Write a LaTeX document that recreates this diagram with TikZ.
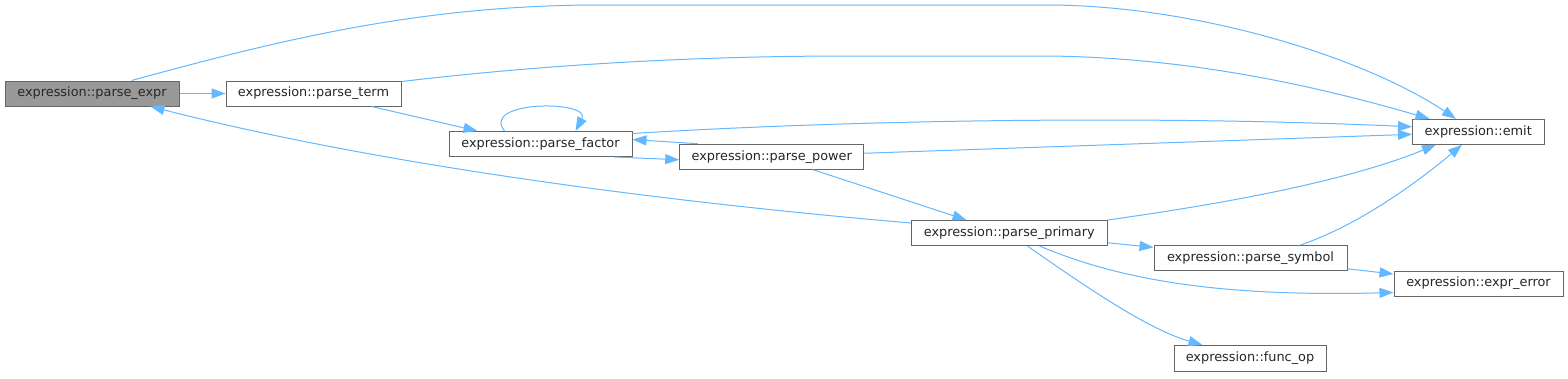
\documentclass[tikz,border=0pt]{standalone}
\usepackage{fontspec}
\setmainfont{DejaVu Sans}
\usetikzlibrary{arrows.meta,calc}
\definecolor{edgeblue}{HTML}{63B8FF}
\definecolor{boxborder}{HTML}{666666}
\definecolor{rootfill}{HTML}{999999}
\begin{document}
\begin{tikzpicture}[x=1pt,y=-1pt,
  fn/.style={draw=boxborder, line width=1pt, fill=white, inner sep=0pt,
    minimum height=25pt, font=\fontsize{12.87}{15}\selectfont, text=black!85},
  rootfn/.style={fn, fill=rootfill},
  edge/.style={draw=edgeblue, line width=1pt,
    -{Triangle[length=14pt,width=10pt,fill=edgeblue]}}]
\useasboundingbox (0,0) rectangle (1568,378);
\fill[white] (0,0) rectangle (1568,378);

\node[rootfn, minimum width=174pt] (expr) at (92,93.5) {expression::parse\_expr};
\node[fn, minimum width=175pt] (term) at (313.5,93.5) {expression::parse\_term};
\node[fn, minimum width=183pt] (factor) at (540.5,144) {expression::parse\_factor};
\node[fn, minimum width=184pt] (power) at (771.75,156.75) {expression::parse\_power};
\node[fn, minimum width=131.5pt] (emit) at (1478.25,131.8) {expression::emit};
\node[fn, minimum width=195.5pt] (primary) at (1009.25,233) {expression::parse\_primary};
\node[fn, minimum width=193pt] (symbol) at (1250.5,258.3) {expression::parse\_symbol};
\node[fn, minimum width=169pt] (error) at (1478.5,283.5) {expression::expr\_error};
\node[fn, minimum width=152pt, minimum height=26pt] (funcop) at (1250,358.5) {expression::func\_op};

% parse_expr -> parse_term
\draw[edge] (expr.east) -- (term.west);
% parse_expr -> emit
\draw[edge] ($(expr.north west)+(127,0)$) .. controls (280,40) and (420,5) .. (600,5)
  -- (1050,5) .. controls (1200,6) and (1365,58) .. ($(emit.north west)+(44,0)$);
% parse_term -> emit
\draw[edge] ($(term.north east)+(0,1)$) .. controls (550,64) and (700,56) .. (850,56)
  -- (1050,56) .. controls (1200,58) and (1330,90) .. ($(emit.north west)+(17.5,0)$);
% parse_term -> parse_factor
\draw[edge] ($(term.south west)+(146,0)$) -- ($(factor.north west)+(29,0)$);
% parse_factor self loop
\draw[edge] ($(factor.north west)+(56,0)$) .. controls (480,100) and (592,100) .. ($(factor.north west)+(127,0)$);
% parse_factor -> emit
\draw[edge] ($(factor.north east)+(0,2.5)$) .. controls (850,120) and (1150,115) .. ($(emit.north west)+(0,8)$);
% parse_factor -> parse_power
\draw[edge] ($(factor.south west)+(166,0)$) -- ($(power.north west)+(0,16)$);
% parse_power -> parse_factor
\draw[edge] ($(power.north west)+(18.5,0)$) -- ($(factor.north east)+(0,8.5)$);
% parse_power -> emit
\draw[edge] ($(power.north east)+(0,9.5)$) -- ($(emit.north west)+(0,15.5)$);
% parse_power -> parse_primary
\draw[edge] ($(power.south west)+(134,0)$) -- ($(primary.north west)+(55.5,0)$);
% parse_primary -> parse_expr
\draw[edge] ($(primary.north west)+(0,3)$) .. controls (700,205) and (400,170) .. ($(expr.south west)+(146,0)$);
% parse_primary -> emit
\draw[edge] (primary.north east) .. controls (1230,203) and (1350,180) .. ($(emit.south west)+(24,0)$);
% parse_primary -> parse_symbol
\draw[edge] ($(primary.north east)+(0,22.8)$) -- ($(symbol.north west)+(0,2)$);
% parse_primary -> expr_error
\draw[edge] ($(primary.south west)+(128.5,0)$) .. controls (1120,280) and (1220,297) .. ($(error.north west)+(0,22)$);
% parse_primary -> func_op
\draw[edge] ($(primary.south west)+(116.5,0)$) .. controls (1090,290) and (1150,330) .. ($(funcop.north west)+(29,0)$);
% parse_symbol -> emit
\draw[edge] ($(symbol.north west)+(146,0)$) .. controls (1360,225) and (1420,180) .. ($(emit.south west)+(50,0)$);
% parse_symbol -> expr_error
\draw[edge] ($(symbol.north east)+(0,23.5)$) -- ($(error.north west)+(0,3.5)$);
\end{tikzpicture}
\end{document}
